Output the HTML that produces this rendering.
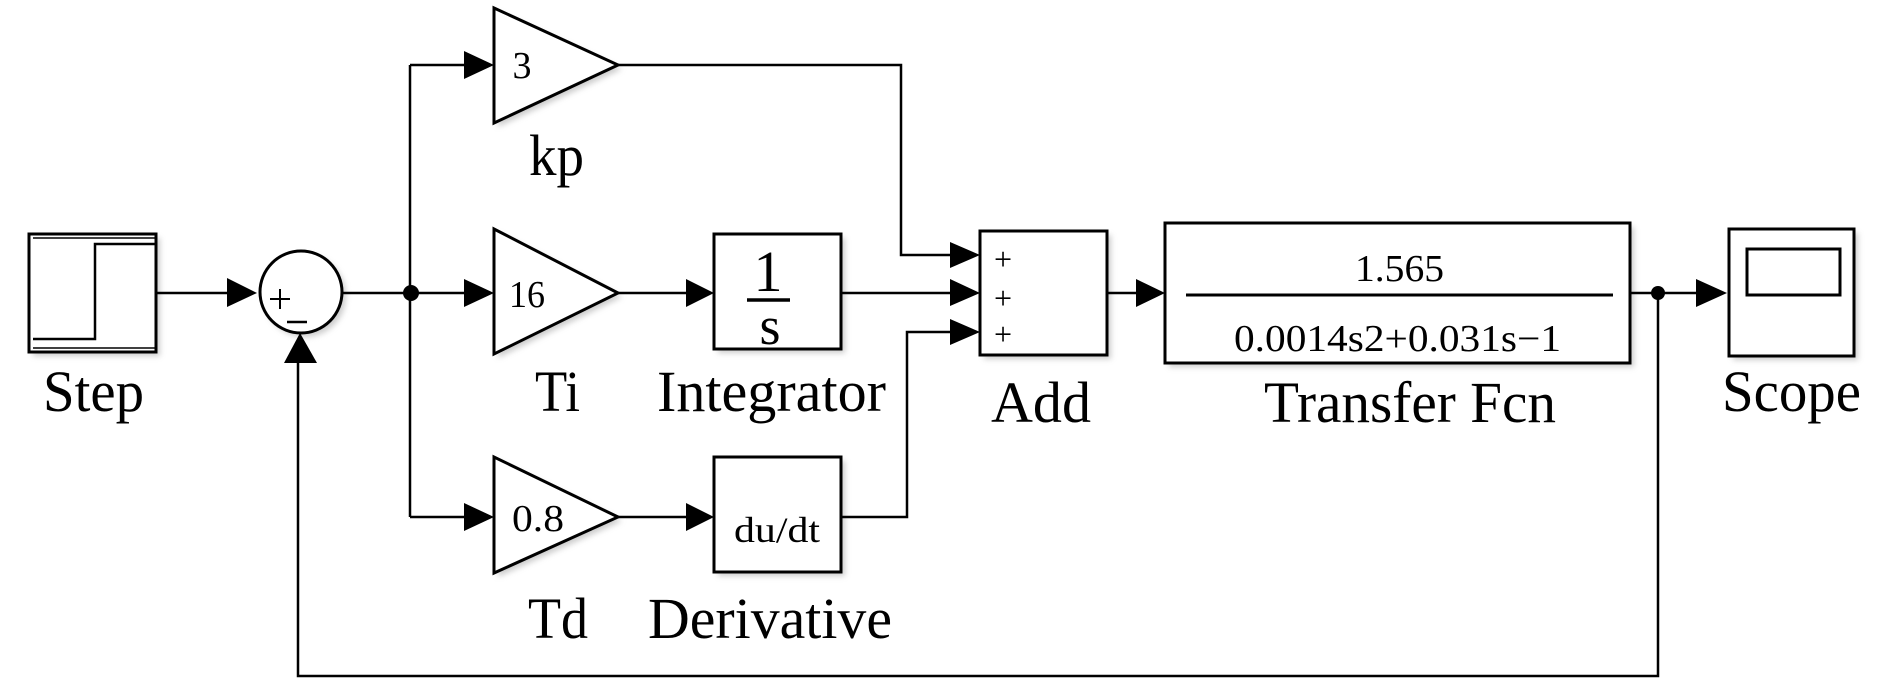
<!DOCTYPE html>
<html><head><meta charset="utf-8"><style>
html,body{margin:0;padding:0;background:#fff;}
svg{display:block;}
text{font-family:"Liberation Serif",serif;fill:#000;}
</style></head><body>
<svg width="1890" height="685" viewBox="0 0 1890 685" xmlns="http://www.w3.org/2000/svg">
<defs>
<filter id="sh" x="-10%" y="-10%" width="130%" height="130%"><feGaussianBlur stdDeviation="3"/></filter>
</defs>
<g fill="#aaa" opacity="0.6" filter="url(#sh)">
<rect x="33" y="238" width="127" height="118"/>
<rect x="718" y="238" width="127" height="115"/>
<rect x="718" y="461" width="127" height="115"/>
<rect x="984" y="235" width="127" height="124"/>
<rect x="1169" y="227" width="465" height="140"/>
<rect x="1733" y="233" width="125" height="127"/>
<circle cx="305" cy="296" r="41"/>
<polygon points="498,12 498,127 622,69"/>
<polygon points="498,233 498,358 622,297"/>
<polygon points="498,461 498,577 622,521"/>
</g>
<g fill="none" stroke="#000" stroke-width="2.5">
<!-- wires -->
<polyline points="156,293 228,293"/>
<polyline points="343,293 466,293"/>
<polyline points="410,65 410,517"/>
<polyline points="410,65 466,65"/>
<polyline points="410,517 466,517"/>
<polyline points="618,293 688,293"/>
<polyline points="618,517 688,517"/>
<polyline points="618,65 901,65 901,255 952,255"/>
<polyline points="841,293 952,293"/>
<polyline points="841,517 907,517 907,332 952,332"/>
<polyline points="1107,293 1140,293"/>
<polyline points="1630,293 1700,293"/>
<polyline points="1658,293 1658,676 298,676 298,360"/>
</g>
<g fill="#000">
<polygon points="227,278 257,293 227,307"/>
<polygon points="464,279 494,293 464,307"/>
<polygon points="464,51 494,65 464,79"/>
<polygon points="464,503 494,517 464,531"/>
<polygon points="686,279 714,293 686,307"/>
<polygon points="686,503 714,517 686,531"/>
<polygon points="950,242 980,255 950,268"/>
<polygon points="950,279 980,293 950,306"/>
<polygon points="950,319 980,332 950,345"/>
<polygon points="1136,279 1165,293 1136,307"/>
<polygon points="1696,279 1727,293 1696,307"/>
<polygon points="284,363 300,333 317,363"/>
<circle cx="411" cy="293" r="8"/>
<circle cx="1658" cy="293" r="7"/>
</g>
<g fill="#fff" stroke="#000" stroke-width="3">
<rect x="29" y="234" width="127" height="118"/>
<rect x="714" y="234" width="127" height="115"/>
<rect x="714" y="457" width="127" height="115"/>
<rect x="980" y="231" width="127" height="124"/>
<rect x="1165" y="223" width="465" height="140"/>
<rect x="1729" y="229" width="125" height="127"/>
<circle cx="301" cy="292" r="41"/>
<polygon points="494,8 494,123 618,65"/>
<polygon points="494,229 494,354 618,293"/>
<polygon points="494,457 494,573 618,517"/>
</g>
<g fill="none" stroke="#000" stroke-width="2.5">
<polyline points="33,339 95,339 95,244 156,244"/>
<line x1="33" y1="238" x2="156" y2="238" stroke-width="1.5"/>
<line x1="33" y1="348" x2="156" y2="348" stroke-width="1.5"/>
<rect x="1747" y="249" width="93" height="46" stroke-width="3"/>
<line x1="1186" y1="295" x2="1613" y2="295" stroke-width="3"/>
<line x1="747" y1="300" x2="790" y2="300" stroke-width="3.5"/>
<line x1="270" y1="299" x2="290" y2="299" stroke-width="2"/>
<line x1="280" y1="289" x2="280" y2="309" stroke-width="2"/>
<line x1="287" y1="322" x2="307" y2="322" stroke-width="2.5"/>
</g>
<g font-size="38">
<text x="522" y="78" text-anchor="middle">3</text>
<text x="509" y="307" textLength="36" lengthAdjust="spacingAndGlyphs">16</text>
<text x="512" y="531" textLength="52" lengthAdjust="spacingAndGlyphs">0.8</text>
<text x="734" y="542" textLength="86" lengthAdjust="spacingAndGlyphs" font-size="36">du/dt</text>
<text x="1355" y="281" textLength="89" lengthAdjust="spacingAndGlyphs">1.565</text>
<text x="1234" y="351" textLength="327" lengthAdjust="spacingAndGlyphs">0.0014s2+0.031s−1</text>
<text x="768" y="291" text-anchor="middle" font-size="58">1</text>
<text x="770" y="344" text-anchor="middle" font-size="54">s</text>
<text x="1003" y="270" text-anchor="middle" font-size="32">+</text>
<text x="1003" y="309" text-anchor="middle" font-size="32">+</text>
<text x="1003" y="345" text-anchor="middle" font-size="32">+</text>
</g>
<g font-size="58">
<text x="43" y="411" textLength="101" lengthAdjust="spacingAndGlyphs">Step</text>
<text x="529" y="175" textLength="55" lengthAdjust="spacingAndGlyphs">kp</text>
<text x="535" y="411" textLength="45" lengthAdjust="spacingAndGlyphs">Ti</text>
<text x="657" y="411" textLength="229" lengthAdjust="spacingAndGlyphs">Integrator</text>
<text x="528" y="638" textLength="60" lengthAdjust="spacingAndGlyphs">Td</text>
<text x="648" y="638" textLength="244" lengthAdjust="spacingAndGlyphs">Derivative</text>
<text x="991" y="422" textLength="100" lengthAdjust="spacingAndGlyphs">Add</text>
<text x="1264" y="422" textLength="292" lengthAdjust="spacingAndGlyphs">Transfer Fcn</text>
<text x="1722" y="411" textLength="139" lengthAdjust="spacingAndGlyphs">Scope</text>
</g>
</svg>
</body></html>
